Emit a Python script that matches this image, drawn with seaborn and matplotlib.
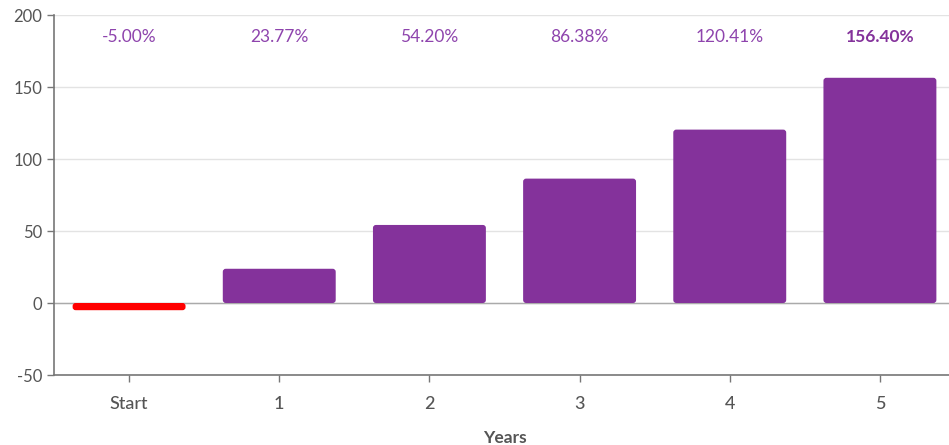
import matplotlib
matplotlib.use("Agg")
import matplotlib.pyplot as plt
from matplotlib.patches import FancyBboxPatch
import seaborn as sns
import pandas as pd

categories = ["Start", "1", "2", "3", "4", "5"]
values = [-5.00, 23.77, 54.20, 86.38, 120.41, 156.40]
labels = ["-5.00%", "23.77%", "54.20%", "86.38%", "120.41%", "156.40%"]
y_ticks = [-50, 0, 50, 100, 150, 200]

PURPLE = "#84329b"
RED = "#ff0000"
TEXT = "#555555"

sns.set_theme(style="white")
plt.rcParams["font.family"] = ["Lato", "DejaVu Sans"]
plt.rcParams["axes.unicode_minus"] = False

df = pd.DataFrame({"cat": categories, "val": values})
colors = [RED if v < 0 else PURPLE for v in values]

AX_W = 901
fig = plt.figure(figsize=(9.49, 4.45), dpi=100)
ax = fig.add_axes([54 / 949, 70 / 445, AX_W / 949, 360 / 445])

sns.barplot(data=df, x="cat", y="val", hue="cat", palette=colors, legend=False,
            width=0.752, ax=ax, saturation=1)

ax.set_xlim(-0.5, 5.5)
ax.set_ylim(-50, 200)

# replace bars with slightly rounded versions
x_px = AX_W / 6.0
y_px = 360 / 250.0
r_px = 3.0
for p in list(ax.patches):
    x, y = p.get_x(), p.get_y()
    w, h = p.get_width(), p.get_height()
    fc = p.get_facecolor()
    if h < 0:
        y, h = y + h, -h
    p.remove()
    r = r_px / x_px
    aspect = (r_px / y_px) / r
    fb = FancyBboxPatch((x, y), w, h,
                        boxstyle=f"round,pad=0,rounding_size={r}",
                        mutation_aspect=aspect, facecolor=fc, edgecolor="none",
                        zorder=3)
    ax.add_patch(fb)

ax.set_yticks(y_ticks)
ax.yaxis.grid(True, color="#e3e3e3", linewidth=1)
ax.set_axisbelow(True)
ax.axhline(0, color="#aaaaaa", linewidth=1, zorder=2)

for s in ["top", "right"]:
    ax.spines[s].set_visible(False)
for s in ["left", "bottom"]:
    ax.spines[s].set_color("#777777")
    ax.spines[s].set_linewidth(1.2)

ax.tick_params(axis="both", colors="#777777", labelcolor=TEXT, length=5,
               width=1, labelsize=12, left=True, bottom=True)
ax.tick_params(axis="x", pad=10, labelsize=13)
for t in ax.get_xticklabels():
    t.set_fontweight("medium")

ax.set_ylabel("")
ax.set_xlabel("Years", fontsize=12.5, color=TEXT, fontweight="bold", labelpad=13)

for i, lab in enumerate(labels):
    ax.text(i, 185, lab, ha="center", va="center", color=PURPLE if i == 5 else "#8e44ad",
            fontsize=12.5, fontweight="bold" if i == 5 else "normal")

fig.savefig("out.png", dpi=100)
